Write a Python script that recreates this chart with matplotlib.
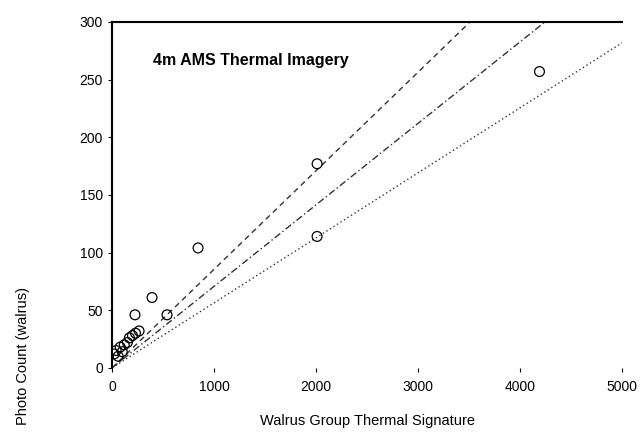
import matplotlib
matplotlib.use("Agg")
import matplotlib.pyplot as plt
import numpy as np

plt.rcParams['font.family'] = ['Liberation Sans', 'DejaVu Sans']

# Data
x_obs = [20, 40, 60, 80, 100, 120, 150, 170, 200, 230, 265, 225, 392, 539, 843, 2010, 2010, 4190]
y_obs = [12, 15, 10, 18, 14, 20, 22, 26, 28, 30, 32, 46, 61, 46, 104, 177, 114, 257]

slopes = [0.0855, 0.0707, 0.0564]
line_styles = [(0, (4, 3)), (0, (5, 2, 1, 2)), (0, (1, 2))]
x_ticks = [0, 1000, 2000, 3000, 4000, 5000]
y_ticks = [0, 50, 100, 150, 200, 250, 300]

title_text = "4m AMS Thermal Imagery"
x_label = "Walrus Group Thermal Signature"
y_label = "Photo Count (walrus)"

fig = plt.figure(figsize=(6.44, 4.40), dpi=100)
ax = fig.add_axes([0.174, 0.164, 0.792, 0.786])

xx = np.array([0, 5000])
for s, ls in zip(slopes, line_styles):
    ax.plot(xx, s * xx, color='#333333', linestyle=ls, linewidth=1.0)

ax.scatter(x_obs, y_obs, s=50, facecolors='none', edgecolors='black', linewidths=0.9, zorder=3)

ax.set_xlim(0, 5000)
ax.set_ylim(0, 300)
ax.set_xticks(x_ticks)
ax.set_yticks(y_ticks)
ax.tick_params(axis='both', labelsize=10, length=3, direction='out')
ax.tick_params(axis='x', pad=6)

for side in ['right', 'bottom']:
    ax.spines[side].set_visible(False)
ax.spines['left'].set_linewidth(1.5)
ax.spines['top'].set_linewidth(1.5)

ax.text(0.08, 0.89, title_text, transform=ax.transAxes, fontsize=11.5,
        fontweight='bold', ha='left', va='center')

ax.set_xlabel(x_label, fontsize=10.5, labelpad=14)
fig.text(0.035, 0.19, y_label, rotation=90, fontsize=10.5, ha='center', va='center')

fig.savefig("out.png", dpi=100)
